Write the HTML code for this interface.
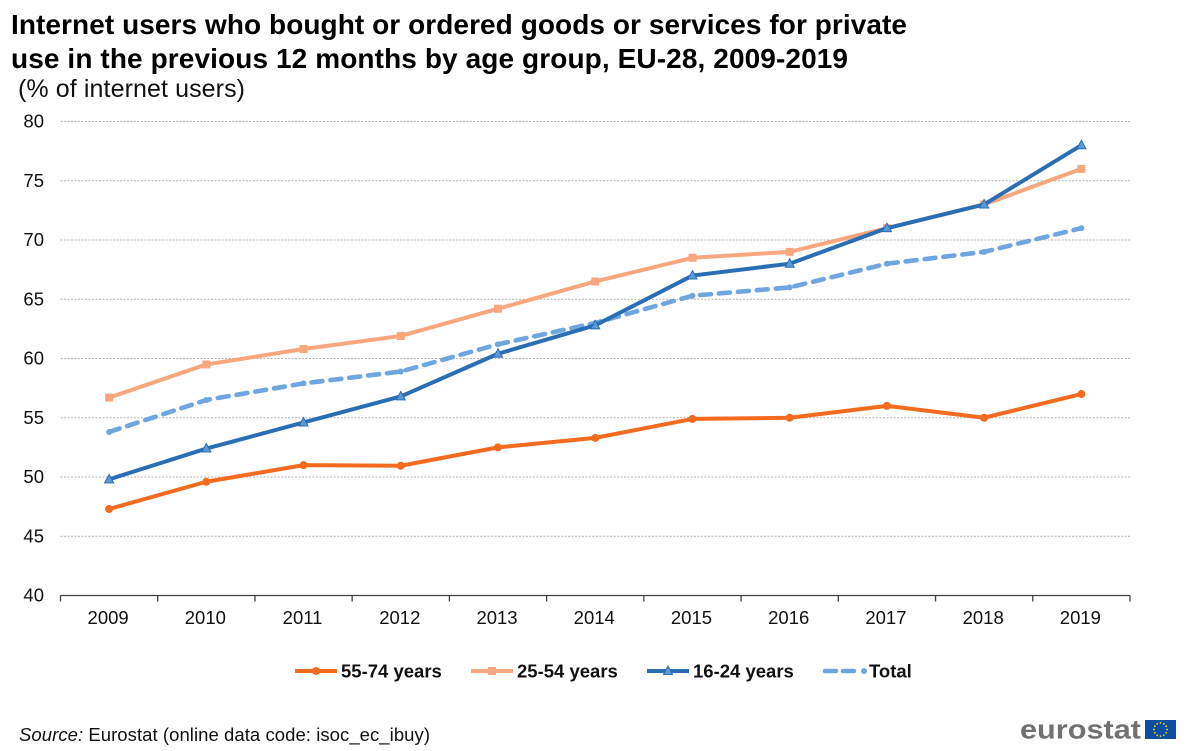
<!DOCTYPE html>
<html lang="en">
<head>
<meta charset="utf-8">
<title>Internet users who bought or ordered goods or services</title>
<style>
html,body{margin:0;padding:0;background:#fff;width:1200px;height:751px;overflow:hidden}
svg{display:block;font-family:"Liberation Sans",Arial,sans-serif}
</style>
</head>
<body>
<svg id="chart" xmlns="http://www.w3.org/2000/svg" width="1200" height="751" viewBox="0 0 1200 751">
  <g font-size="28" font-weight="700" fill="#000">
    <text x="11" y="34" textLength="896" lengthAdjust="spacing">Internet users who bought or ordered goods or services for private</text>
    <text x="11" y="68" textLength="837" lengthAdjust="spacing">use in the previous 12 months by age group, EU-28, 2009-2019</text>
  </g>
  <text x="18" y="97" font-size="25" fill="#111" textLength="227" lengthAdjust="spacing">(% of internet users)</text>
  <g id="grid"></g>
  <g id="yaxis"></g>
  <g id="xaxis"></g>
  <g id="series"></g>
  <g id="legend"></g>
  <text x="19" y="741" font-size="18.5" fill="#111" textLength="411" lengthAdjust="spacing"><tspan font-style="italic">Source:</tspan> Eurostat (online data code: isoc_ec_ibuy)</text>
  <g>
    <text x="1020" y="738.5" font-size="27" font-weight="700" fill="#717171" textLength="121" lengthAdjust="spacingAndGlyphs">eurostat</text>
    <rect x="1145" y="720" width="31" height="19" fill="#0f4da0"></rect>
    <g id="stars" fill="#f5d90a"></g>
  </g>
</svg>
<script>
const categories = ['2009','2010','2011','2012','2013','2014','2015','2016','2017','2018','2019'];
const yTicks = [40,45,50,55,60,65,70,75,80];
const values5574 = [47.3,49.6,51.0,50.95,52.5,53.3,54.9,55.0,56.0,55.0,57.0];
const values2554 = [56.7,59.5,60.8,61.9,64.2,66.5,68.5,69.0,71.0,73.0,76.0];
const values1624 = [49.8,52.4,54.6,56.8,60.4,62.8,67.0,68.0,71.0,73.0,78.0];
const valuesTotal = [53.8,56.5,57.9,58.9,61.2,63.0,65.3,66.0,68.0,69.0,71.0];
const legendLabels = ['55-74 years','25-54 years','16-24 years','Total'];

const NS = 'http://www.w3.org/2000/svg';
const plotLeft = 60.5, plotRight = 1130, plotTop = 121.5, plotBottom = 595.5;
const yMin = 40, yMax = 80;
const totalDash = '11 8';
function xBand(i){ return plotLeft + (plotRight - plotLeft) * i / categories.length; }
function xScale(i){ return xBand(i + 0.5); }
function yScale(v){ return plotBottom - (v - yMin) / (yMax - yMin) * (plotBottom - plotTop); }
function make(tag, attrs, parent){
  const el = document.createElementNS(NS, tag);
  for (const k in attrs) el.setAttribute(k, attrs[k]);
  parent.appendChild(el);
  return el;
}
const grid = document.getElementById('grid');
const yaxis = document.getElementById('yaxis');
const xaxis = document.getElementById('xaxis');
const seriesG = document.getElementById('series');
const legend = document.getElementById('legend');
const stars = document.getElementById('stars');

yTicks.forEach(function(t){
  if (t !== yMin) {
    const g = make('line', {x1:plotLeft, x2:plotRight, y1:yScale(t), y2:yScale(t), stroke:'#b4b4b4', 'stroke-width':1, 'stroke-dasharray':'2 1.5'}, grid);
    
    
  }
  const l = make('text', {x:44, y:yScale(t) + 6, 'text-anchor':'end', 'font-size':18.5, fill:'#111'}, yaxis);
  l.textContent = t;
  
  
});

const axisLine = make('line', {x1:plotLeft, x2:plotRight, y1:plotBottom, y2:plotBottom, stroke:'#404040', 'stroke-width':1.3}, xaxis);


for (let i = 0; i <= categories.length; i++) {
  const tk = make('line', {x1:xBand(i), x2:xBand(i), y1:plotBottom, y2:plotBottom + 6, stroke:'#404040', 'stroke-width':1.3}, xaxis);
  
  
}
categories.forEach(function(c, i){
  const l = make('text', {x:xScale(i) - 1, y:624, 'text-anchor':'middle', 'font-size':18.5, fill:'#111'}, xaxis);
  l.textContent = c;
  
  
});

function marker(kind, x, y, color, edge, parent){
  let m;
  if (kind === 'circle') {
    m = make('circle', {cx:x, cy:y, r:4, fill:color}, parent);
  } else if (kind === 'square') {
    m = make('rect', {x:x - 4, y:y - 4, width:8, height:8, fill:color}, parent);
  } else if (kind === 'triangle') {
    m = make('polygon', {points:(x)+','+(y-5)+' '+(x+4.5)+','+(y+3.5)+' '+(x-4.5)+','+(y+3.5), fill:color, stroke:edge, 'stroke-width':1}, parent);
  } else {
    m = make('circle', {cx:x, cy:y, r:3, fill:color}, parent);
  }
  
  
  return m;
}

function drawSeries(values, color, fill, kind, dash, name){
  const g = make('g', {}, seriesG);
  
  
  const pts = values.map(function(v, i){ return xScale(i) + ',' + yScale(v); }).join(' ');
  const attrs = {points:pts, fill:'none', stroke:color, 'stroke-width':dash ? 4.6 : 4, 'stroke-linejoin':'round'};
  if (dash) { attrs['stroke-dasharray'] = dash; attrs['stroke-linecap'] = 'round'; }
  const line = make('polyline', attrs, g);
  
  
  values.forEach(function(v, i){ marker(kind, xScale(i), yScale(v), fill, color, g); });
}

drawSeries(values5574, '#f46a1f', '#f46a1f', 'circle', null, 'series-55-74-years');
drawSeries(values2554, '#f9a77e', '#f9a77e', 'square', null, 'series-25-54-years');
drawSeries(valuesTotal, '#6fa6e0', '#6fa6e0', 'dot', totalDash, 'series-total');
drawSeries(values1624, '#2a6eb5', '#5b9bd5', 'triangle', null, 'series-16-24-years');

const legendColors = ['#f46a1f','#f9a77e','#2a6eb5','#6fa6e0'];
const legendFills = ['#f46a1f','#f9a77e','#5b9bd5','#6fa6e0'];
const legendKinds = ['circle','square','triangle','dot'];
legendLabels.forEach(function(lab, i){
  const g = make('g', {}, legend);
  
  
  const x0 = 295 + i * 176, yy = 671;
  const isDashed = legendKinds[i] === 'dot';
  const attrs = {x1:isDashed ? x0 + 2 : x0, x2:isDashed ? x0 + 32 : x0 + 42, y1:yy, y2:yy, stroke:legendColors[i], 'stroke-width':isDashed ? 4.6 : 4};
  if (isDashed) { attrs['stroke-dasharray'] = '11 7'; attrs['stroke-linecap'] = 'round'; }
  const key = make('line', attrs, g);
  
  
  marker(legendKinds[i], x0 + (isDashed ? 41 : 21), yy, legendFills[i], legendColors[i], g);
  const t = make('text', {x:x0 + 46, y:yy + 6.5, 'font-size':18.5, 'font-weight':700, fill:'#111'}, g);
  t.textContent = lab;
  
  
});

for (let k = 0; k < 12; k++) {
  const a = k * Math.PI / 6;
  const s = make('circle', {cx:1160.5 + 6.6 * Math.cos(a), cy:729.5 + 6.6 * Math.sin(a), r:0.9}, stars);
  
  
}
</script>
</body>
</html>
